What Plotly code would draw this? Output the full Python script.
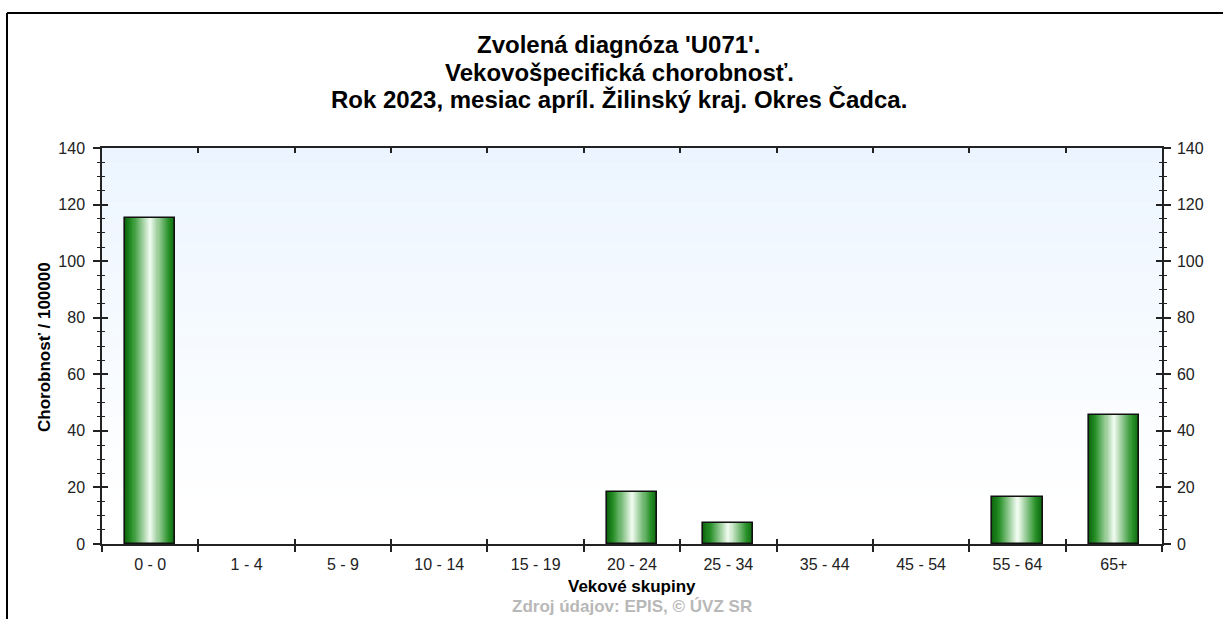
import plotly.graph_objects as go

categories = ["0 - 0", "1 - 4", "5 - 9", "10 - 14", "15 - 19", "20 - 24",
              "25 - 34", "35 - 44", "45 - 54", "55 - 64", "65+"]
values = [115.2, 0, 0, 0, 0, 18.3, 7.5, 0, 0, 16.5, 45.7]
y_ticks = [0, 20, 40, 60, 80, 100, 120, 140]

title_lines = ["Zvolená diagnóza 'U071'.",
               "Vekovošpecifická chorobnosť.",
               "Rok 2023, mesiac apríl. Žilinský kraj. Okres Čadca."]
x_title = "Vekové skupiny"
y_title = "Chorobnosť / 100000"
source = "Zdroj údajov: EPIS, © ÚVZ SR"

W, H = 1223, 619
L, R, T, B = 102, 1162, 148, 544
FONT = "Liberation Sans, Arial, sans-serif"


def px(x):
    return (x - L) / (R - L)


def py(y):
    return (B - y) / (B - T)


def mix(c1, c2, f):
    return tuple(int(round(a + (b - a) * f)) for a, b in zip(c1, c2))


def bar_color(t):
    dark = (14, 105, 14)
    mid = (40, 145, 40)
    light = (248, 255, 248)
    if t < 0.25:
        c = mix(dark, mid, t / 0.25)
    else:
        c = mix(mid, light, (t - 0.25) / 0.75)
    return "rgb(%d,%d,%d)" % c


fig = go.Figure()
bar_w = 0.52
N = 24
for k in range(N):
    t = k / N
    fig.add_trace(go.Bar(
        x=categories, y=values, width=bar_w * (1 - t),
        marker=dict(color=bar_color(t), line=dict(width=0)),
        hoverinfo="skip", showlegend=False))
outline_vals = [v if v > 0 else None for v in values]
fig.add_trace(go.Bar(
    x=categories, y=outline_vals, width=bar_w, xaxis="x2",
    marker=dict(color="rgba(0,0,0,0)", line=dict(color="#111", width=1.6)),
    showlegend=False))
fig.add_trace(go.Scatter(x=[], y=[], yaxis="y2", showlegend=False))
fig.add_trace(go.Scatter(x=[], y=[], yaxis="y3", showlegend=False))

shapes = []
nb = 50
top_c = (236, 245, 255)
for i in range(nb):
    f = i / (nb - 1)
    c = mix(top_c, (255, 255, 255), min(1, f * 1.1))
    shapes.append(dict(type="rect", xref="paper", yref="paper", layer="below",
                       x0=0, x1=1, y0=1 - (i + 1) / nb, y1=1 - i / nb,
                       line=dict(width=0), fillcolor="rgb(%d,%d,%d)" % c))
# outer frame (top and left edges)
shapes.append(dict(type="line", xref="paper", yref="paper",
                   x0=px(7), x1=px(W + 5), y0=py(13), y1=py(13),
                   line=dict(color="#000", width=2)))
shapes.append(dict(type="line", xref="paper", yref="paper",
                   x0=px(7), x1=px(7), y0=py(13), y1=py(H + 5),
                   line=dict(color="#000", width=2)))

annotations = []
for i, (txt, yy) in enumerate(zip(title_lines, [44.5, 72, 99.5])):
    annotations.append(dict(text="<b>%s</b>" % txt, xref="paper", yref="paper",
                            x=px(619), y=py(yy), showarrow=False,
                            xanchor="center", yanchor="middle",
                            font=dict(family=FONT, size=24, color="#000")))
annotations.append(dict(text="<b>%s</b>" % x_title, xref="paper", yref="paper",
                        x=0.5, y=py(586), showarrow=False, yanchor="middle",
                        font=dict(family=FONT, size=17, color="#000")))
annotations.append(dict(text="<b>%s</b>" % y_title, xref="paper", yref="paper",
                        x=px(44), y=py(347), showarrow=False, textangle=-90,
                        xanchor="center", yanchor="middle",
                        font=dict(family=FONT, size=17, color="#000")))
annotations.append(dict(text="<b>%s</b>" % source, xref="paper", yref="paper",
                        x=0.5, y=py(606), showarrow=False, yanchor="middle",
                        font=dict(family=FONT, size=17, color="#b8b8b8")))

axis_line = dict(showline=True, linecolor="#222", linewidth=1.5)
yrange = [0, 140]
tfont = dict(family=FONT, size=16, color="#222")

fig.update_layout(
    width=W, height=H, autosize=False,
    margin=dict(l=L, r=W - R, t=T, b=H - B, pad=0),
    paper_bgcolor="white", plot_bgcolor="white",
    barmode="overlay", bargap=0,
    shapes=shapes, annotations=annotations,
    font=dict(family=FONT, size=16, color="#222"),
    xaxis=dict(type="category", categoryarray=categories, range=[-0.5, 10.5],
               tickson="boundaries", ticks="inside", ticklen=5, tickwidth=1.5,
               tickcolor="#222", mirror="ticks", showgrid=False,
               showticklabels=False, **axis_line),
    xaxis2=dict(type="category", categoryarray=categories, range=[-0.5, 10.5],
                overlaying="x", side="bottom", anchor="y",
                tickson="boundaries", ticks="outside", ticklen=7, tickwidth=1.5,
                tickcolor="#222", showgrid=False, showline=False,
                ticklabelstandoff=9, tickfont=tfont),
    yaxis=dict(range=yrange, tickvals=y_ticks, ticks="outside", ticklen=7,
               tickwidth=1.5, tickcolor="#222", showgrid=False, zeroline=False,
               minor=dict(dtick=5, ticks="outside", ticklen=3, tickwidth=1.3,
                          tickcolor="#222"),
               ticklabelstandoff=5, tickfont=tfont, **axis_line),
    yaxis2=dict(range=yrange, tickvals=y_ticks, overlaying="y", side="right",
                anchor="x", ticks="outside", ticklen=7, tickwidth=1.5,
                tickcolor="#222", showgrid=False, zeroline=False,
                minor=dict(dtick=5, ticks="outside", ticklen=3, tickwidth=1.3,
                           tickcolor="#222"),
                ticklabelstandoff=3, tickfont=tfont, **axis_line),
    yaxis3=dict(range=yrange, tickvals=y_ticks, overlaying="y", side="left",
                anchor="x", ticks="inside", ticklen=6, tickwidth=1.5,
                tickcolor="#222", mirror="ticks", showgrid=False,
                zeroline=False, showticklabels=False, showline=False,
                minor=dict(dtick=5, ticks="inside", ticklen=3, tickwidth=1.3,
                           tickcolor="#222")),
)

fig.write_html("out.html", config={"displayModeBar": False},
               post_script="document.body.style.margin='0px';")
